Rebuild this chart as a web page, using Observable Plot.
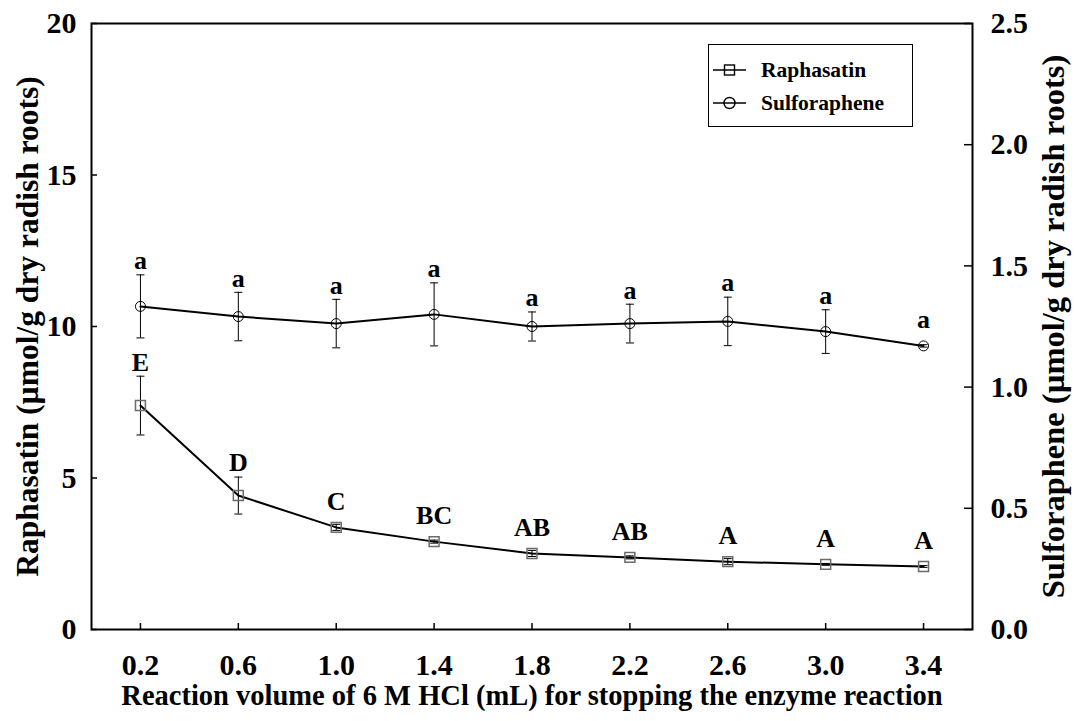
<!DOCTYPE html>
<html>
<head>
<meta charset="utf-8">
<script src="https://cdn.jsdelivr.net/npm/d3@7"></script>
<script src="https://cdn.jsdelivr.net/npm/@observablehq/plot@0.6"></script>
<style>
  body { margin: 0; background: #fff; }
  #wrap { position: relative; width: 1074px; height: 721px; font-family: "Liberation Serif", "Times New Roman", serif; font-weight: bold; }
  #legend { position: absolute; left: 708px; top: 44px; width: 205px; height: 83px; box-sizing: border-box; border: 1.5px solid #000; background: #fff; }
  .row { position: absolute; left: 4px; height: 24px; display: flex; align-items: center; font-size: 21.5px; color: #000; }
  .row svg { margin-right: 14px; }
</style>
</head>
<body>
<div id="wrap">
  <div id="chart"></div>
  <div id="legend">
    <div class="row" style="top:13px">
      <svg width="34" height="20"><line x1="0" y1="10" x2="33" y2="10" stroke="#000" stroke-width="1.6"/><rect x="11.5" y="5" width="10" height="10" fill="none" stroke="#000" stroke-width="1.4"/></svg>Raphasatin
    </div>
    <div class="row" style="top:46px">
      <svg width="34" height="20"><line x1="0" y1="10" x2="33" y2="10" stroke="#000" stroke-width="1.6"/><circle cx="16.5" cy="10" r="5.5" fill="none" stroke="#000" stroke-width="1.4"/></svg>Sulforaphene
    </div>
  </div>
</div>
<script>
// ---- data ----
const volumes = [0.2, 0.6, 1.0, 1.4, 1.8, 2.2, 2.6, 3.0, 3.4];
const raphasatin = [7.39, 4.42, 3.37, 2.90, 2.51, 2.38, 2.24, 2.15, 2.08];
const raphasatinErr = [0.97, 0.61, 0.10, 0.05, 0.10, 0.05, 0.10, 0.03, 0.03];
const raphasatinLetters = ["E", "D", "C", "BC", "AB", "AB", "A", "A", "A"];
const sulforaphene = [1.333, 1.291, 1.262, 1.300, 1.250, 1.262, 1.271, 1.229, 1.170];
const sulforapheneErr = [0.13, 0.10, 0.10, 0.13, 0.06, 0.08, 0.10, 0.09, 0.005];
const sulforapheneLetters = ["a", "a", "a", "a", "a", "a", "a", "a", "a"];
const leftTicks = [0, 5, 10, 15, 20];
const rightTicks = [0, 0.5, 1.0, 1.5, 2.0, 2.5];
const xTitle = "Reaction volume of 6 M HCl (mL) for stopping the enzyme reaction";
const leftTitle = "Raphasatin (µmol/g dry radish roots)";
const rightTitle = "Sulforaphene (µmol/g dry radish roots)";

// right axis (0–2.5) mapped onto left scale (0–20)
const k = 20 / 2.5;

const raph = volumes.map((x, i) => ({
  x, y: raphasatin[i], lo: raphasatin[i] - raphasatinErr[i], hi: raphasatin[i] + raphasatinErr[i],
  label: raphasatinLetters[i]
}));
const sulf = volumes.map((x, i) => ({
  x, y: sulforaphene[i] * k, lo: (sulforaphene[i] - sulforapheneErr[i]) * k, hi: (sulforaphene[i] + sulforapheneErr[i]) * k,
  label: sulforapheneLetters[i]
}));

const capSymbol = {
  draw(ctx, size) { const w = Math.sqrt(size / Math.PI); ctx.moveTo(-w, 0); ctx.lineTo(w, 0); }
};

const mL = 91, mR = 102, mT = 23, mB = 92;
const W = 1074, H = 721;
const fw = W - mL - mR, fh = H - mT - mB;

const plot = Plot.plot({
  width: W, height: H,
  marginLeft: mL, marginRight: mR, marginTop: mT, marginBottom: mB,
  style: { fontFamily: "'Liberation Serif', 'Times New Roman', serif", fontWeight: "bold", color: "#000", background: "#fff" },
  x: { domain: [0, 3.6] },
  y: { domain: [0, 20] },
  marks: [
    Plot.axisY(leftTicks, { anchor: "left", tickSize: 0, tickPadding: 15, fontSize: 30, label: null }),
    Plot.axisY(rightTicks.map(t => t * k), { anchor: "right", tickSize: 0, tickPadding: 18, fontSize: 30, label: null, tickFormat: d => (d / k).toFixed(1) }),
    Plot.axisX(volumes, { anchor: "bottom", tickSize: 0, tickPadding: 24, fontSize: 30, label: null, tickFormat: d => d.toFixed(1) }),
    Plot.ruleY(leftTicks, { y: d => d, insetRight: fw - 6, stroke: "#000", strokeWidth: 1.5 }),
    Plot.ruleY(rightTicks.map(t => t * k), { y: d => d, insetLeft: fw - 8, stroke: "#000", strokeWidth: 1.5 }),
    Plot.ruleX(volumes, { x: d => d, insetTop: fh - 6, stroke: "#000", strokeWidth: 1.5 }),
    Plot.frame({ stroke: "#000", strokeWidth: 2 }),
    // error bars
    Plot.ruleX(raph, { x: "x", y1: "lo", y2: "hi", stroke: "#000", strokeWidth: 1 }),
    Plot.ruleX(sulf, { x: "x", y1: "lo", y2: "hi", stroke: "#000", strokeWidth: 1 }),
    Plot.dot(raph.flatMap(d => [{ x: d.x, y: d.lo }, { x: d.x, y: d.hi }]), { x: "x", y: "y", symbol: capSymbol, r: 4, stroke: "#000", strokeWidth: 1, fill: "none" }),
    Plot.dot(sulf.flatMap(d => [{ x: d.x, y: d.lo }, { x: d.x, y: d.hi }]), { x: "x", y: "y", symbol: capSymbol, r: 4, stroke: "#000", strokeWidth: 1, fill: "none" }),
    // lines
    Plot.line(raph, { x: "x", y: "y", stroke: "#000", strokeWidth: 2 }),
    Plot.line(sulf, { x: "x", y: "y", stroke: "#000", strokeWidth: 2 }),
    // markers
    Plot.dot(raph, { x: "x", y: "y", symbol: "square", r: 5.6, stroke: "#6a6a6a", strokeWidth: 1.5, fill: "none" }),
    Plot.dot(sulf, { x: "x", y: "y", symbol: "circle", r: 5, stroke: "#000", strokeWidth: 1, fill: "none" }),
    // significance letters
    Plot.text(raph, { x: "x", y: d => Math.max(d.hi, d.y + 0.4), text: "label", dy: -14, fontSize: 26, fontWeight: "bold", fill: "#000" }),
    Plot.text(sulf, { x: "x", y: d => Math.max(d.hi, d.y + 0.4), text: "label", dy: -14, fontSize: 26, fontWeight: "bold", fill: "#000" }),
    // titles
    Plot.text([leftTitle], { text: d => d, frameAnchor: "left", textAnchor: "middle", rotate: -90, dx: -64, fontSize: 31.5, fontWeight: "bold", fill: "#000" }),
    Plot.text([rightTitle], { text: d => d, frameAnchor: "right", textAnchor: "middle", rotate: -90, dx: 81, fontSize: 32.5, fontWeight: "bold", fill: "#000" }),
    Plot.text([xTitle], { text: d => d, frameAnchor: "bottom", dy: 75, fontSize: 28.5, fontWeight: "bold", fill: "#000" })
  ]
});
document.getElementById("chart").appendChild(plot);
</script>
</body>
</html>
